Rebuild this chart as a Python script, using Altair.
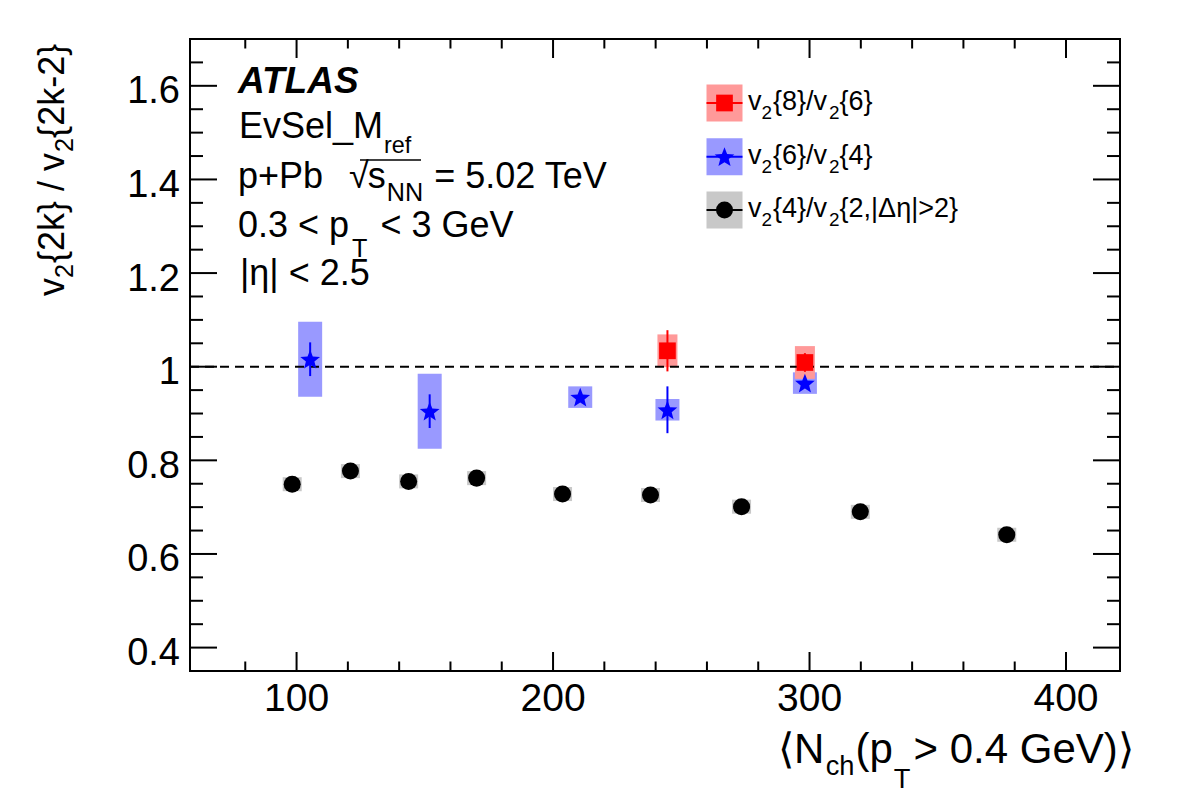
import math
import altair as alt
import pandas as pd

# ---------------- data ----------------
nch_v4v2 = [98.3, 121.0, 143.7, 170.2, 203.7, 238.0, 273.5, 319.8, 376.9]
ratio_v4v2 = [0.749, 0.777, 0.755, 0.762, 0.728, 0.726, 0.701, 0.690, 0.641]
stat_v4v2 = [0.004, 0.004, 0.004, 0.004, 0.004, 0.004, 0.004, 0.004, 0.012]
sys_v4v2 = [0.015, 0.015, 0.015, 0.015, 0.015, 0.015, 0.015, 0.015, 0.015]

nch_v6v4 = [105.3, 151.9, 210.6, 244.6, 298.2]
ratio_v6v4 = [1.016, 0.905, 0.935, 0.908, 0.965]
stat_v6v4 = [0.036, 0.036, 0.010, 0.050, 0.010]
sys_v6v4 = [0.080, 0.080, 0.023, 0.023, 0.023]

nch_v8v6 = [244.6, 298.2]
ratio_v8v6 = [1.034, 1.009]
stat_v8v6 = [0.044, 0.020]
sys_v8v6 = [0.035, 0.035]

x_major = [100, 200, 300, 400]
x_labels = ["100", "200", "300", "400"]
x_minor = [80, 120, 140, 160, 180, 220, 240, 260, 280, 320, 340, 360, 380]
y_major = [0.4, 0.6, 0.8, 1.0, 1.2, 1.4, 1.6]
y_labels = ["0.4", "0.6", "0.8", "1", "1.2", "1.4", "1.6"]
y_minor = [0.45, 0.5, 0.55, 0.65, 0.7, 0.75, 0.85, 0.9, 0.95, 1.05, 1.1, 1.15,
           1.25, 1.3, 1.35, 1.45, 1.5, 1.55, 1.65]
ref_line = [1.0]
x_range = [60.4, 419.1]
y_range = [0.35, 1.7]

# ---------------- layout / style ----------------
W, H = 930, 632
PAD_L, PAD_T = 190, 39
FONT = "Liberation Sans"
C_RED, C_RED_BOX = "#ff0000", "#ff9999"
C_BLUE, C_BLUE_BOX = "#0000ff", "#9999ff"
C_BLACK, C_GREY_BOX = "#000000", "#c8c8c8"

xs = alt.Scale(domain=x_range, nice=False, zero=False)
ys = alt.Scale(domain=y_range, nice=False, zero=False)


def star_path(ro=1.0, ri=0.43):
    pts = []
    for k in range(10):
        a = math.radians(-90 + 36 * k)
        r = ro if k % 2 == 0 else ri
        pts.append(f"{r * math.cos(a):.3f},{r * math.sin(a) + 0.095:.3f}")
    return "M" + " L".join(pts) + " Z"


STAR = star_path()
STAR_SIZE = 430
DOT_SIZE = 290
SQ_SIZE = 279


def series(nch, r, stat, sys):
    return pd.DataFrame({
        "x": nch, "y": r,
        "lo": [a - b for a, b in zip(r, stat)], "hi": [a + b for a, b in zip(r, stat)],
        "slo": [a - b for a, b in zip(r, sys)], "shi": [a + b for a, b in zip(r, sys)],
    })


d42 = series(nch_v4v2, ratio_v4v2, stat_v4v2, sys_v4v2)
d64 = series(nch_v6v4, ratio_v6v4, stat_v6v4, sys_v6v4)
d86 = series(nch_v8v6, ratio_v8v6, stat_v8v6, sys_v8v6)

X = alt.X("x:Q", scale=xs, axis=None)


def boxes(df, color, w):
    return alt.Chart(df).mark_bar(width=w, color=color).encode(
        x=X, y=alt.Y("slo:Q", scale=ys, axis=None), y2="shi:Q")


def errs(df, color):
    return alt.Chart(df).mark_rule(color=color, strokeWidth=2).encode(
        x=X, y=alt.Y("lo:Q", scale=ys, axis=None), y2="hi:Q")


def pts(df, color, shape, size):
    return alt.Chart(df).mark_point(shape=shape, filled=True, size=size, color=color,
                                    opacity=1, strokeWidth=0).encode(
        x=X, y=alt.Y("y:Q", scale=ys, axis=None))


# axis ticks (ROOT style, inside the frame, on all four sides)
def xticks(vals, length):
    d = pd.DataFrame({"v": vals})
    enc_x = alt.X("v:Q", scale=xs, axis=None)
    bot = alt.Chart(d).mark_rule(color="black", strokeWidth=2).encode(
        x=enc_x, y=alt.value(H), y2=alt.value(H - length))
    top = alt.Chart(d).mark_rule(color="black", strokeWidth=2).encode(
        x=enc_x, y=alt.value(0), y2=alt.value(length))
    return [bot, top]


def yticks(vals, length):
    d = pd.DataFrame({"v": vals})
    enc_y = alt.Y("v:Q", scale=ys, axis=None)
    left = alt.Chart(d).mark_rule(color="black", strokeWidth=2).encode(
        y=enc_y, x=alt.value(0), x2=alt.value(length))
    right = alt.Chart(d).mark_rule(color="black", strokeWidth=2).encode(
        y=enc_y, x=alt.value(W - length), x2=alt.value(W))
    return [left, right]


# tick labels
xlab = alt.Chart(pd.DataFrame({"v": x_major, "t": x_labels})).mark_text(
    align="center", baseline="alphabetic", font=FONT, fontSize=39, color="black").encode(
    x=alt.X("v:Q", scale=xs, axis=None), y=alt.value(H + 39.5), text="t:N")
ylab = alt.Chart(pd.DataFrame({"v": y_major, "t": y_labels})).mark_text(
    align="right", baseline="alphabetic", font=FONT, fontSize=38, color="black", dy=17.5).encode(
    y=alt.Y("v:Q", scale=ys, axis=None), x=alt.value(-10), text="t:N")

ref = alt.Chart(pd.DataFrame({"v": ref_line})).mark_rule(
    color="black", strokeWidth=2, strokeDash=[9, 6]).encode(
    y=alt.Y("v:Q", scale=ys, axis=None), x=alt.value(0), x2=alt.value(W))

# ---------------- text annotations (with sub-scripts) ----------------
CW = {" ": .278, "(": .333, ")": .333, "+": .584, ",": .278, "-": .333, ".": .278, "/": .278,
      "<": .584, "=": .584, ">": .584, "E": .667, "G": .778, "M": .833, "N": .722, "P": .667,
      "S": .667, "T": .611, "V": .667, "_": .556, "b": .556, "c": .5, "e": .556, "f": .278,
      "h": .556, "k": .5, "l": .222, "p": .556, "r": .333, "s": .5, "v": .5, "{": .334,
      "|": .26, "}": .334, "η": .556, "Δ": .668, "√": .549, "⟨": .39, "⟩": .39}


def tw(s, fs):
    return sum(CW.get(c, 0.556) for c in s) * fs


def pieces(x0, y0, fs, segs, vertical=False):
    out, adv = [], 0.0
    for seg in segs:
        text, scale, dy = seg[0], seg[1], seg[2]
        adv += seg[3] if len(seg) > 3 else 0.0
        size = fs * scale
        if vertical:
            out.append(dict(px=x0 + dy - PAD_L, py=y0 - adv - PAD_T, t=text, fs=size))
        else:
            out.append(dict(px=x0 + adv - PAD_L, py=y0 + dy - PAD_T, t=text, fs=size))
        adv += tw(text, size)
    return out


horiz = []
horiz += pieces(239, 138, 36, [("EvSel_M", 1, 0), ("ref", 0.65, 15, 1)])
horiz += pieces(238, 188, 36, [("p+Pb", 1, 0), ("√", 1.0, 0, 26), ("s", 1, 0, -1),
                               ("NN", 0.7, 13, 1), ("= 5.02 TeV", 1, 0, 11)])
horiz += pieces(238, 237, 36, [("0.3 < p", 1, 0), ("T", 0.7, 20, 3), ("< 3 GeV", 1, 0, 13)])
horiz += pieces(240, 285, 36, [("|η| < 2.5", 1, 0)])
horiz += pieces(778, 763, 42, [("⟨N", 1, 0), ("ch", 0.65, 12, 1), ("(p", 1, 0, 1),
                               ("T", 0.65, 25, 1), (" > 0.4 GeV)⟩", 1, 0, 3)])

leg_labels = [
    [("v", 1, 0), ("2", 0.7, 9), ("{8}/v", 1, 0, 1), ("2", 0.7, 9, 2), ("{6}", 1, 0)],
    [("v", 1, 0), ("2", 0.7, 9), ("{6}/v", 1, 0, 1), ("2", 0.7, 9, 2), ("{4}", 1, 0)],
    [("v", 1, 0), ("2", 0.7, 9), ("{4}/v", 1, 0, 1), ("2", 0.7, 9, 2), ("{2,|Δη|>2}", 1, 0)],
]
leg_cy = [103, 156.7, 210]
for segs, cy in zip(leg_labels, leg_cy):
    horiz += pieces(748, cy + 7, 27, segs)

vert = pieces(64, 296, 36, [("v", 1, 0), ("2", 0.7, 9), ("{2k} / v", 1, 0, 1),
                            ("2", 0.7, 9, 1), ("{2k-2}", 1, 0)], vertical=True)

PX = alt.X("px:Q", scale=None, axis=None)
PY = alt.Y("py:Q", scale=None, axis=None)
SZ = alt.Size("fs:Q", scale=None, legend=None)

txt_h = alt.Chart(pd.DataFrame(horiz)).mark_text(
    align="left", baseline="alphabetic", font=FONT, color="black").encode(
    x=PX, y=PY, text="t:N", size=SZ)
txt_v = alt.Chart(pd.DataFrame(vert)).mark_text(
    align="left", baseline="alphabetic", font=FONT, color="black", angle=270).encode(
    x=PX, y=PY, text="t:N", size=SZ)
atlas = alt.Chart(pd.DataFrame([dict(px=238 - PAD_L, py=93 - PAD_T, t="ATLAS")])).mark_text(
    align="left", baseline="alphabetic", font=FONT, fontSize=37, fontWeight="bold",
    fontStyle="italic", color="black").encode(x=PX, y=PY, text="t:N")

# sqrt overline
sq = alt.Chart(pd.DataFrame([dict(a=360 - PAD_L, b=421 - PAD_L, c=160 - PAD_T)])).mark_rule(
    color="black", strokeWidth=1.5).encode(
    x=alt.X("a:Q", scale=None, axis=None), x2="b:Q", y=alt.Y("c:Q", scale=None, axis=None))

# ---------------- legend ----------------
leg = pd.DataFrame({
    "cx": [724.5 - PAD_L] * 3,
    "cy": [c - PAD_T for c in leg_cy],
})
leg["x1"] = leg["cx"] - 18
leg["x2"] = leg["cx"] + 18
leg["y1"] = leg["cy"] - 18.5
leg["y2"] = leg["cy"] + 18.5
LX = alt.X("x1:Q", scale=None, axis=None)
leg_layers = []
for i, (bc, mc, shape, size) in enumerate([(C_RED_BOX, C_RED, "square", SQ_SIZE),
                                            (C_BLUE_BOX, C_BLUE, STAR, STAR_SIZE),
                                            (C_GREY_BOX, C_BLACK, "circle", DOT_SIZE)]):
    row = leg.iloc[[i]]
    leg_layers.append(alt.Chart(row).mark_rect(color=bc).encode(
        x=LX, x2="x2:Q", y=alt.Y("y1:Q", scale=None, axis=None), y2="y2:Q"))
    leg_layers.append(alt.Chart(row).mark_rule(color=mc, strokeWidth=2).encode(
        x=LX, x2="x2:Q", y=alt.Y("cy:Q", scale=None, axis=None)))
    leg_layers.append(alt.Chart(row).mark_point(shape=shape, filled=True, size=size, color=mc,
                                                opacity=1, strokeWidth=0).encode(
        x=alt.X("cx:Q", scale=None, axis=None), y=alt.Y("cy:Q", scale=None, axis=None)))

layers = (
    xticks(x_major, 19) + xticks(x_minor, 9.5) +
    yticks(y_major, 27) + yticks(y_minor, 13) +
    [xlab, ylab,
     boxes(d42, C_GREY_BOX, 19), boxes(d64, C_BLUE_BOX, 24), boxes(d86, C_RED_BOX, 20), ref,
     errs(d42, C_BLACK), errs(d64, C_BLUE), errs(d86, C_RED),
     pts(d42, C_BLACK, "circle", DOT_SIZE), pts(d64, C_BLUE, STAR, STAR_SIZE),
     pts(d86, C_RED, "square", SQ_SIZE),
     txt_h, txt_v, atlas, sq] + leg_layers
)

chart = alt.layer(*layers).properties(
    width=W, height=H,
    padding={"left": PAD_L, "top": PAD_T, "right": 1182 - PAD_L - W, "bottom": 800 - PAD_T - H},
    autosize=alt.AutoSizeParams(type="none"),
    background="white",
).configure_view(stroke="black", strokeWidth=2)

chart.save("out.html", embed_options={"renderer": "svg", "actions": False})
